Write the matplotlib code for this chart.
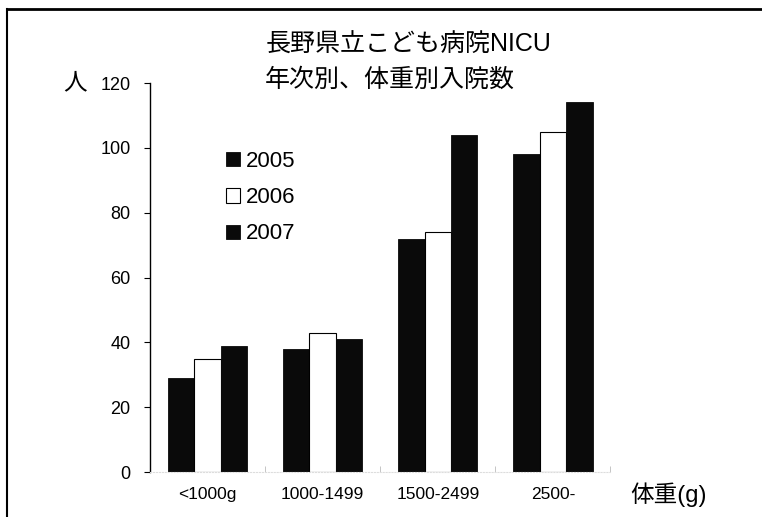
import matplotlib
matplotlib.use("Agg")
import matplotlib.pyplot as plt
import numpy as np
from matplotlib.lines import Line2D

plt.rcParams['font.family'] = ['Liberation Sans', 'Noto Sans CJK JP', 'DejaVu Sans']

categories = ['<1000g', '1000-1499', '1500-2499', '2500-']
years = ['2005', '2006', '2007']
v2005 = [29, 38, 72, 98]
v2006 = [35, 43, 74, 105]
v2007 = [39, 41, 104, 114]

fig = plt.figure(figsize=(7.62, 5.17), dpi=100)
ax = fig.add_axes([0.197, 0.087, 0.604, 0.7524])

x = np.arange(len(categories)) + 0.5
w = 0.23
ax.bar(x - w, v2005, w, color='#0a0a0a', edgecolor='#0a0a0a', linewidth=0.6, label=years[0])
ax.bar(x, v2006, w, color='white', edgecolor='black', linewidth=0.8, label=years[1])
ax.bar(x + w, v2007, w, color='#0a0a0a', edgecolor='#0a0a0a', linewidth=0.6, label=years[2])

ax.set_xlim(0, 4)
ax.set_ylim(0, 120)
ax.set_yticks(np.arange(0, 121, 20))
ax.set_xticks(x)
ax.set_xticklabels(categories)
ax.set_xticks([1, 2, 3, 4], minor=True)
ax.tick_params(axis='x', which='major', length=0, pad=11, labelsize=12.5)
ax.tick_params(axis='x', which='minor', length=4, color='#bbbbbb', direction='in')
ax.tick_params(axis='y', length=4, width=0.8, pad=10, labelsize=13)

for s in ['top', 'right']:
    ax.spines[s].set_visible(False)
ax.spines['left'].set_linewidth(1.0)
ax.spines['bottom'].set_color('#dddddd')
ax.spines['bottom'].set_linestyle(':')

ax.legend(loc='upper left', bbox_to_anchor=(0.122, 0.876), frameon=False,
          fontsize=16, handlelength=0.6, handleheight=0.6, handletextpad=0.3,
          labelspacing=0.68)

fig.text(0.348, 0.913, '長野県立こども病院NICU', fontsize=18, ha='left', va='center')
fig.text(0.348, 0.845, '年次別、体重別入院数', fontsize=18, ha='left', va='center')
fig.text(0.098, 0.839, '人', fontsize=17, ha='center', va='center')
fig.text(0.877, 0.043, '体重(g)', fontsize=17, ha='center', va='center')

# scanned page border
fig.add_artist(Line2D([0.009, 0.009], [0.0, 0.983], transform=fig.transFigure, color='black', lw=1.5))
fig.add_artist(Line2D([0.009, 1.0], [0.983, 0.983], transform=fig.transFigure, color='black', lw=2))

fig.savefig('out.png', dpi=100)
